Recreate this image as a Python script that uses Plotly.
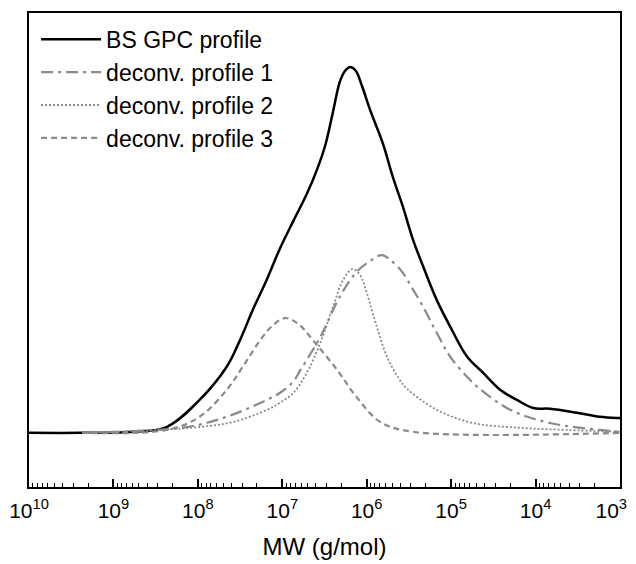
import numpy as np
import plotly.graph_objects as go

# log10(MW) positions and normalized intensities
bs_logmw = [10.0, 9.37, 8.77, 8.37, 7.98, 7.66, 7.50, 7.35, 7.18, 7.03, 6.87, 6.71, 6.59, 6.49,
            6.40, 6.32, 6.26, 6.20, 6.13, 6.06, 5.96, 5.81, 5.69, 5.57, 5.45, 5.33, 5.17, 5.01,
            4.81, 4.62, 4.42, 4.22, 4.03, 3.83, 3.51, 3.24, 3.04, 3.0]
bs_val = [0.0, 0.0, 0.003, 0.016, 0.090, 0.180, 0.254, 0.336, 0.421, 0.503, 0.579, 0.653, 0.719,
          0.787, 0.877, 0.959, 0.989, 1.000, 0.990, 0.951, 0.883, 0.792, 0.699, 0.617, 0.527,
          0.454, 0.363, 0.290, 0.208, 0.164, 0.118, 0.090, 0.068, 0.066, 0.055, 0.044, 0.041, 0.041]

p1_logmw = [9.37, 8.13, 7.66, 7.26, 7.03, 6.87, 6.79, 6.55, 6.32, 6.12, 5.96, 5.82, 5.72, 5.57,
            5.45, 5.33, 5.17, 5.01, 4.81, 4.69, 4.30, 3.83, 3.24, 3.0]
p1_val = [0.0, 0.016, 0.044, 0.082, 0.109, 0.140, 0.170, 0.262, 0.372, 0.440, 0.470, 0.486, 0.473,
          0.437, 0.391, 0.344, 0.273, 0.208, 0.153, 0.126, 0.063, 0.027, 0.008, 0.003]

p2_logmw = [9.37, 7.98, 7.58, 7.18, 7.03, 6.87, 6.71, 6.55, 6.40, 6.28, 6.17, 6.08, 6.00, 5.88,
            5.76, 5.61, 5.52, 5.17, 4.74, 4.19, 3.63, 3.0]
p2_val = [0.0, 0.016, 0.030, 0.063, 0.082, 0.109, 0.164, 0.246, 0.344, 0.418, 0.448, 0.432, 0.383,
          0.290, 0.208, 0.145, 0.120, 0.063, 0.027, 0.014, 0.008, 0.003]

p3_logmw = [9.37, 8.37, 7.98, 7.66, 7.47, 7.26, 7.12, 6.97, 6.81, 6.64, 6.35, 6.12, 5.84, 5.45, 3.0]
p3_val = [0.0, 0.008, 0.044, 0.117, 0.180, 0.254, 0.292, 0.314, 0.298, 0.254, 0.172, 0.098, 0.030,
          0.003, 0.0]

tick_exps = [10, 9, 8, 7, 6, 5, 4, 3]
tick_text = ["10<sup>%d</sup>" % e for e in tick_exps]
# keep the last label inside the window (trailing blanks shift the centred label left)
tick_text[-1] = tick_text[-1] + "&nbsp;&nbsp;&nbsp;"

GRAY = "#8a8a8a"
FONT = "Liberation Sans, Arial, sans-serif"
LS = dict(shape="spline", smoothing=1.0)

fig = go.Figure()
fig.add_trace(go.Scatter(x=np.power(10.0, bs_logmw), y=bs_val, mode="lines", name="BS GPC profile",
                         line=dict(color="black", width=2.5, **LS)))
fig.add_trace(go.Scatter(x=np.power(10.0, p1_logmw), y=p1_val, mode="lines", name="deconv. profile 1",
                         line=dict(color=GRAY, width=2.2, dash="12px,5px,3px,5px", **LS)))
fig.add_trace(go.Scatter(x=np.power(10.0, p2_logmw), y=p2_val, mode="lines", name="deconv. profile 2",
                         line=dict(color=GRAY, width=1.8, dash="2px,2px", **LS)))
fig.add_trace(go.Scatter(x=np.power(10.0, p3_logmw), y=p3_val, mode="lines", name="deconv. profile 3",
                         line=dict(color=GRAY, width=2.2, dash="6px,4px", **LS)))

fig.update_layout(
    width=636, height=556,
    margin=dict(l=21, r=24, t=5, b=77, autoexpand=False),
    paper_bgcolor="white", plot_bgcolor="white",
    font=dict(family=FONT, color="black"),
    showlegend=True,
    legend=dict(x=0.012, y=0.99, xanchor="left", yanchor="top", bgcolor="rgba(0,0,0,0)",
                font=dict(size=23, family=FONT), itemwidth=60, tracegroupgap=0),
    xaxis=dict(type="log", range=[10, 3], tickmode="array", automargin=False,
               tickvals=[10.0 ** e for e in tick_exps], ticktext=tick_text,
               ticks="inside", ticklen=8, tickwidth=1.5, tickcolor="black",
               minor=dict(ticks="inside", ticklen=4, tickwidth=1.2, tickcolor="black", dtick="D1"),
               showline=True, linecolor="black", linewidth=2, mirror=True,
               showgrid=False, zeroline=False, ticklabelstandoff=4, ticklabeloverflow="allow",
               tickfont=dict(size=21, family=FONT),
               title=dict(text="MW (g/mol)", font=dict(size=24, family=FONT), standoff=17)),
    yaxis=dict(range=[-0.148, 1.148], showticklabels=False, ticks="", automargin=False,
               showline=True, linecolor="black", linewidth=2, mirror=True,
               showgrid=False, zeroline=False),
)

fig.write_html("out.html")
